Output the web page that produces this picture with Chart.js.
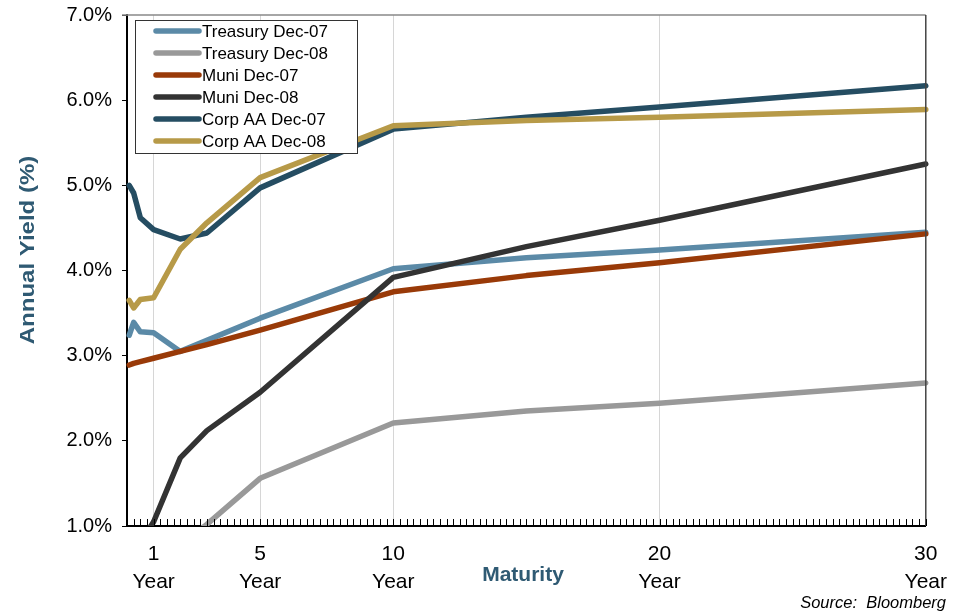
<!DOCTYPE html>
<html><head><meta charset="utf-8">
<script src="https://cdn.jsdelivr.net/npm/chart.js@4.4.1/dist/chart.umd.min.js"></script>
<style>html,body{margin:0;padding:0;background:#fff;}#wrap{width:962px;height:611px;position:relative;}</style>
</head><body><div id="wrap"><canvas id="c" width="962" height="611"></canvas></div>
<script>
// Maturities in years (1M, 3M, 6M, 1Y, 2Y, 3Y, 5Y, 10Y, 15Y, 20Y, 30Y)
const maturities = [0.083, 0.25, 0.5, 1, 2, 3, 5, 10, 15, 20, 30];
const treasuryDec07 = [3.24, 3.39, 3.28, 3.27, 3.05, 3.18, 3.44, 4.02, 4.15, 4.24, 4.45];
const treasuryDec08 = [0.00, 0.10, 0.27, 0.40, 0.77, 1.02, 1.56, 2.21, 2.35, 2.44, 2.68];
const muniDec07     = [2.89, 2.91, 2.93, 2.97, 3.05, 3.13, 3.30, 3.75, 3.94, 4.09, 4.43];
const muniDec08     = [0.50, 0.60, 0.80, 1.05, 1.80, 2.12, 2.57, 3.92, 4.28, 4.59, 5.25];
const corpAADec07   = [5.00, 4.91, 4.62, 4.48, 4.37, 4.44, 4.97, 5.66, 5.80, 5.92, 6.17];
const corpAADec08   = [3.65, 3.56, 3.66, 3.68, 4.25, 4.56, 5.09, 5.70, 5.76, 5.80, 5.89];
const seriesNames = ['Treasury Dec-07','Treasury Dec-08','Muni Dec-07','Muni Dec-08','Corp AA Dec-07','Corp AA Dec-08'];
const seriesColors = ['#5b8aa7','#999999','#993a08','#333333','#254d62','#b79a48'];
const xTickValues = [1, 5, 10, 20, 30];
const yTickValues = [1, 2, 3, 4, 5, 6, 7];
const minorTickStep = 0.25;

const allSeries = [treasuryDec07, treasuryDec08, muniDec07, muniDec08, corpAADec07, corpAADec08];
const FONT = "'Liberation Sans', Arial, sans-serif";
const TITLE_COLOR = '#2f5a73';

const datasets = allSeries.map((vals, i) => ({
  label: seriesNames[i],
  data: maturities.map((m, j) => ({x: m, y: vals[j]})),
  borderColor: seriesColors[i],
  backgroundColor: seriesColors[i],
  borderWidth: 5.5,
  pointRadius: 0,
  showLine: true,
  tension: 0,
  borderJoinStyle: 'round',
  borderCapStyle: 'round',
  order: allSeries.length - i,
  clip: {left: 4, top: 4, right: 4, bottom: 0}
}));

const decor = {
  id: 'decor',
  afterDatasetsDraw(chart) {
    const ctx = chart.ctx, a = chart.chartArea;
    const xs = chart.scales.x;
    ctx.save();
    ctx.strokeStyle = '#888888'; ctx.lineWidth = 1.5;
    ctx.beginPath(); ctx.moveTo(a.left - 5, a.top); ctx.lineTo(a.right, a.top); ctx.stroke();
    ctx.strokeStyle = '#444444'; ctx.lineWidth = 1.5;
    ctx.beginPath(); ctx.moveTo(a.right, a.top); ctx.lineTo(a.right, a.bottom); ctx.stroke();
    ctx.strokeStyle = '#000'; ctx.lineWidth = 1;
    for (let v = minorTickStep; v <= xs.max + 1e-9; v += minorTickStep) {
      const px = Math.round(xs.getPixelForValue(v)) + 0.5;
      ctx.beginPath(); ctx.moveTo(px, a.bottom); ctx.lineTo(px, a.bottom - 7); ctx.stroke();
    }
    // legend
    const bx = a.left + 8, by = a.top + 5, bw = 222, bh = 133;
    ctx.fillStyle = '#fff'; ctx.fillRect(bx, by, bw, bh);
    ctx.strokeStyle = '#333'; ctx.lineWidth = 1;
    ctx.strokeRect(bx + 0.5, by + 0.5, bw, bh);
    ctx.font = '17px ' + FONT; ctx.textBaseline = 'middle'; ctx.textAlign = 'left';
    chart.data.datasets.forEach((ds, i) => {
      const yy = by + 11 + i * 22;
      ctx.strokeStyle = ds.borderColor; ctx.lineWidth = 5.5; ctx.lineCap = 'round';
      ctx.beginPath(); ctx.moveTo(bx + 21, yy); ctx.lineTo(bx + 64, yy); ctx.stroke();
      ctx.fillStyle = '#000';
      ctx.fillText(ds.label, bx + 67, yy + 1);
    });
    ctx.restore();
  },
  afterDraw(chart) {
    const ctx = chart.ctx;
    ctx.save();
    ctx.fillStyle = TITLE_COLOR;
    ctx.font = 'bold 20px ' + FONT;
    ctx.textAlign = 'center'; ctx.textBaseline = 'middle';
    ctx.translate(28, 250); ctx.rotate(-Math.PI / 2); ctx.scale(1.2, 1);
    ctx.fillText('Annual Yield (%)', 0, 0);
    ctx.restore();
    ctx.save();
    ctx.fillStyle = TITLE_COLOR;
    ctx.font = 'bold 21px ' + FONT;
    ctx.textAlign = 'center'; ctx.textBaseline = 'middle';
    ctx.fillText('Maturity', 523, 575);
    ctx.fillStyle = '#000';
    ctx.font = 'italic 16.5px ' + FONT;
    ctx.textAlign = 'right';
    ctx.fillText('Source:  Bloomberg', 946, 603);
    ctx.restore();
  }
};

new Chart(document.getElementById('c'), {
  type: 'scatter',
  data: {datasets},
  plugins: [decor],
  options: {
    responsive: false,
    animation: false,
    layout: {padding: {left: 0, top: 15, right: 34, bottom: 0}},
    plugins: {legend: {display: false}, tooltip: {enabled: false}},
    scales: {
      x: {
        type: 'linear', min: 0, max: 30,
        afterBuildTicks: s => { s.ticks = xTickValues.map(v => ({value: v})); },
        afterFit: s => { s.height = 85; },
        grid: {
          color: c => (c.tick && c.tick.value === 30) ? 'rgba(0,0,0,0)' : '#d6d6d6',
          lineWidth: 1, drawTicks: false
        },
        border: {color: '#000', width: 2},
        ticks: {
          callback: v => [String(v), 'Year'],
          font: {family: FONT, size: 21, lineHeight: 1.3},
          color: '#000', padding: 15, maxRotation: 0, autoSkip: false
        }
      },
      y: {
        min: 1, max: 7,
        afterBuildTicks: s => { s.ticks = yTickValues.map(v => ({value: v})); },
        afterFit: s => { s.width = 127; },
        grid: {drawOnChartArea: false, drawTicks: true, tickLength: 5, color: '#000'},
        border: {color: '#000', width: 2},
        ticks: {
          callback: v => Number(v).toFixed(1) + '%',
          font: {family: FONT, size: 20, lineHeight: 0.5},
          color: '#000', padding: 10
        }
      }
    }
  }
});
</script></body></html>
